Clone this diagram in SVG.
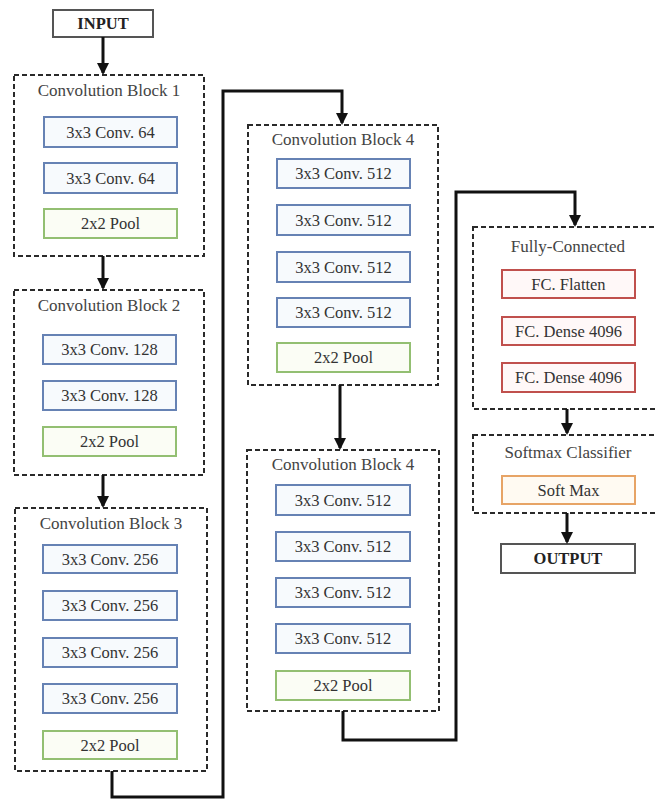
<svg xmlns="http://www.w3.org/2000/svg" width="656" height="802" viewBox="0 0 656 802">
<defs>
<marker id="ah" markerUnits="userSpaceOnUse" markerWidth="12" markerHeight="12" refX="10" refY="6" orient="auto">
<path d="M0,0 L12,6 L0,12 z" fill="#111"/>
</marker>
<style>
.blk{fill:none;stroke:#2a2a2a;stroke-width:2;stroke-dasharray:5 3}
.conv{fill:#f7fafd;stroke:#6682b4;stroke-width:2}
.pool{fill:#fbfdf5;stroke:#93bf72;stroke-width:2}
.fc{fill:#fff8f8;stroke:#c0504d;stroke-width:2}
.sm{fill:#fffaf2;stroke:#e7a466;stroke-width:2}
.io{fill:#fff;stroke:#555;stroke-width:2}
.ttl{font-family:"Liberation Serif",serif;font-size:17px;fill:#444;text-anchor:middle}
.lbl{font-family:"Liberation Serif",serif;font-size:16.5px;fill:#333;text-anchor:middle}
.iol{font-family:"Liberation Serif",serif;font-size:16.5px;font-weight:bold;fill:#222;text-anchor:middle}
.con{fill:none;stroke:#111;stroke-width:3;marker-end:url(#ah)}
</style>
</defs>
<rect width="656" height="802" fill="#fff"/>

<g id="input">
<rect class="io" x="53" y="10" width="100" height="27"/>
<text class="iol" x="103" y="29">INPUT</text>
</g>

<g id="block1">
<rect class="blk" x="14" y="75" width="190" height="181"/>
<text class="ttl" x="109" y="96">Convolution Block 1</text>
<rect class="conv" x="44" y="117" width="133" height="30"/>
<text class="lbl" x="110.5" y="138">3x3 Conv. 64</text>
<rect class="conv" x="44" y="163" width="133" height="30"/>
<text class="lbl" x="110.5" y="184">3x3 Conv. 64</text>
<rect class="pool" x="44" y="209" width="133" height="29"/>
<text class="lbl" x="110.5" y="229">2x2 Pool</text>
</g>

<g id="block2">
<rect class="blk" x="14" y="290" width="190" height="185"/>
<text class="ttl" x="109" y="311">Convolution Block 2</text>
<rect class="conv" x="43" y="335" width="133" height="29"/>
<text class="lbl" x="109.5" y="355">3x3 Conv. 128</text>
<rect class="conv" x="43" y="381" width="133" height="29"/>
<text class="lbl" x="109.5" y="401">3x3 Conv. 128</text>
<rect class="pool" x="43" y="427" width="133" height="29"/>
<text class="lbl" x="109.5" y="447">2x2 Pool</text>
</g>

<g id="block3">
<rect class="blk" x="15" y="508" width="192" height="263"/>
<text class="ttl" x="111" y="529">Convolution Block 3</text>
<rect class="conv" x="43" y="545" width="134" height="28"/>
<text class="lbl" x="110" y="565">3x3 Conv. 256</text>
<rect class="conv" x="43" y="591" width="134" height="29"/>
<text class="lbl" x="110" y="611">3x3 Conv. 256</text>
<rect class="conv" x="43" y="638" width="134" height="29"/>
<text class="lbl" x="110" y="658">3x3 Conv. 256</text>
<rect class="conv" x="43" y="684" width="134" height="29"/>
<text class="lbl" x="110" y="704">3x3 Conv. 256</text>
<rect class="pool" x="43" y="731" width="134" height="28"/>
<text class="lbl" x="110" y="751">2x2 Pool</text>
</g>

<g id="block4a">
<rect class="blk" x="248" y="125" width="190" height="260"/>
<text class="ttl" x="343" y="145">Convolution Block 4</text>
<rect class="conv" x="277" y="159" width="133" height="29"/>
<text class="lbl" x="343.5" y="179">3x3 Conv. 512</text>
<rect class="conv" x="277" y="205" width="133" height="30"/>
<text class="lbl" x="343.5" y="226">3x3 Conv. 512</text>
<rect class="conv" x="277" y="252" width="133" height="30"/>
<text class="lbl" x="343.5" y="273">3x3 Conv. 512</text>
<rect class="conv" x="277" y="298" width="133" height="29"/>
<text class="lbl" x="343.5" y="318">3x3 Conv. 512</text>
<rect class="pool" x="277" y="343" width="133" height="29"/>
<text class="lbl" x="343.5" y="363">2x2 Pool</text>
</g>

<g id="block4b">
<rect class="blk" x="247" y="450" width="192" height="261"/>
<text class="ttl" x="343" y="470">Convolution Block 4</text>
<rect class="conv" x="276" y="485" width="134" height="30"/>
<text class="lbl" x="343" y="506">3x3 Conv. 512</text>
<rect class="conv" x="276" y="532" width="134" height="29"/>
<text class="lbl" x="343" y="552">3x3 Conv. 512</text>
<rect class="conv" x="276" y="578" width="134" height="29"/>
<text class="lbl" x="343" y="598">3x3 Conv. 512</text>
<rect class="conv" x="276" y="624" width="134" height="29"/>
<text class="lbl" x="343" y="644">3x3 Conv. 512</text>
<rect class="pool" x="276" y="671" width="134" height="29"/>
<text class="lbl" x="343" y="691">2x2 Pool</text>
</g>

<g id="fc">
<rect class="blk" x="473" y="227" width="192" height="182"/>
<text class="ttl" x="568" y="252">Fully-Connected</text>
<rect class="fc" x="502" y="270" width="133" height="28"/>
<text class="lbl" x="568.5" y="290">FC. Flatten</text>
<rect class="fc" x="502" y="317" width="133" height="28"/>
<text class="lbl" x="568.5" y="337">FC. Dense 4096</text>
<rect class="fc" x="502" y="363" width="133" height="29"/>
<text class="lbl" x="568.5" y="383">FC. Dense 4096</text>
</g>

<g id="softmax">
<rect class="blk" x="473" y="435" width="192" height="78"/>
<text class="ttl" x="568" y="458">Softmax Classifier</text>
<rect class="sm" x="502" y="476" width="133" height="28"/>
<text class="lbl" x="568.5" y="496">Soft Max</text>
</g>

<g id="output">
<rect class="io" x="501" y="544" width="134" height="29"/>
<text class="iol" x="568" y="564">OUTPUT</text>
</g>

<g id="connectors">
<path class="con" d="M103,37 V73"/>
<path class="con" d="M103,256 V288"/>
<path class="con" d="M103,475 V506"/>
<path class="con" d="M112,771 V797 H223 V91 H342 V123"/>
<path class="con" d="M340,385 V448"/>
<path class="con" d="M343,711 V740 H456 V192 H575 V225"/>
<path class="con" d="M567,409 V433"/>
<path class="con" d="M567,513 V542"/>
</g>
</svg>
